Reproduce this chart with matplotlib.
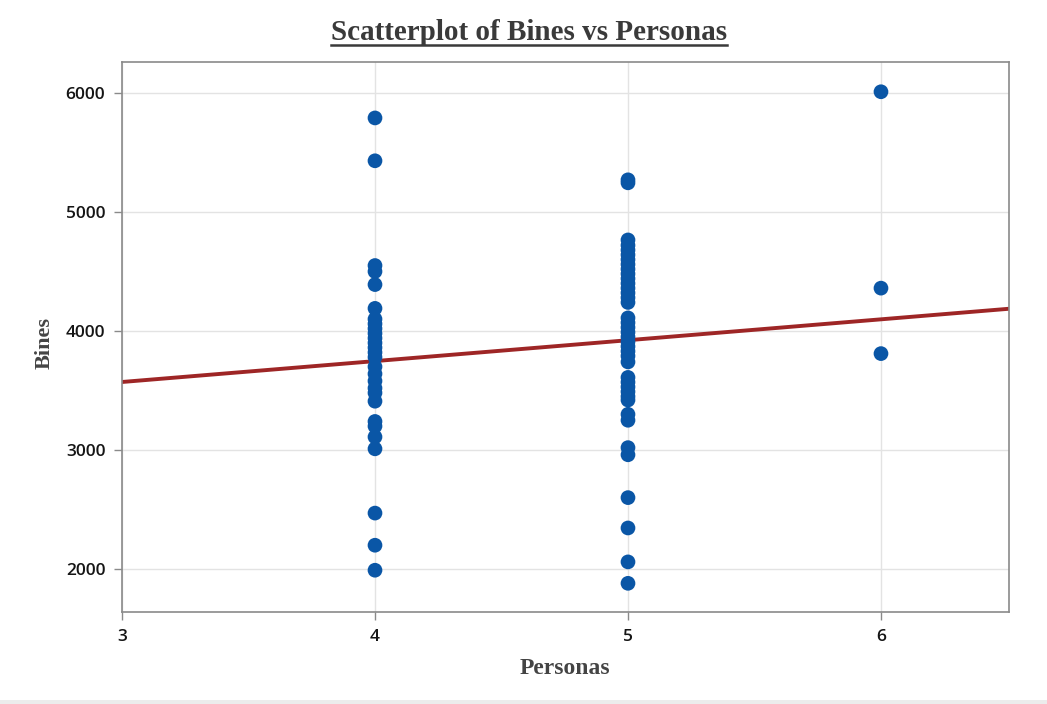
import matplotlib
matplotlib.use("Agg")
import matplotlib.pyplot as plt
from matplotlib.lines import Line2D
from matplotlib.patches import Rectangle

# ---- data ----
personas_4 = [5790, 5430, 4550, 4500, 4390, 4190, 4100, 4060, 4020, 3980, 3940,
              3900, 3860, 3820, 3780, 3700, 3640, 3580, 3520, 3480, 3410, 3240,
              3200, 3110, 3010, 2470, 2200, 1990]
personas_5 = [5270, 5245, 4765, 4720, 4680, 4640, 4600, 4560, 4520, 4480, 4440,
              4400, 4360, 4320, 4280, 4240, 4110, 4070, 4030, 3990, 3950, 3910,
              3870, 3830, 3790, 3740, 3610, 3570, 3530, 3490, 3450, 3420, 3300,
              3250, 3020, 2960, 2600, 2345, 2060, 1880]
personas_6 = [6010, 4360, 3810]

x_vals = [4] * len(personas_4) + [5] * len(personas_5) + [6] * len(personas_6)
y_vals = personas_4 + personas_5 + personas_6

fit_intercept = 3045.0
fit_slope = 175.5

x_ticks = [3, 4, 5, 6]
y_ticks = [2000, 3000, 4000, 5000, 6000]
title = "Scatterplot of Bines vs Personas"
xlabel = "Personas"
ylabel = "Bines"

# ---- figure ----
W, H = 1047, 704
fig = plt.figure(figsize=(W / 100, H / 100), dpi=100)
ax = fig.add_axes([122 / W, 1 - 612 / H, (1009 - 122) / W, (612 - 62) / H])

ax.set_xlim(3, 6.506)
ax.set_ylim(1639, 6260)

ax.set_xticks(x_ticks)
ax.set_yticks(y_ticks)
ax.grid(True, color="#e3e3e3", linewidth=1.0, zorder=0)
ax.set_axisbelow(True)

for s in ax.spines.values():
    s.set_color("#8a8a8a")
    s.set_linewidth(1.2)

ax.tick_params(axis="both", direction="out", length=6, width=1.0, color="#8a8a8a",
               labelsize=12.5, labelcolor="#151515", pad=6)
for lbl in ax.get_xticklabels() + ax.get_yticklabels():
    lbl.set_fontfamily("Open Sans")
    lbl.set_fontweight("semibold")

ax.axline((0, fit_intercept), slope=fit_slope, color="#9e2626", linewidth=2.8, zorder=2)
ax.scatter(x_vals, y_vals, s=112, color="#0a56a6", edgecolors="none", zorder=3)

serif = ["Liberation Serif", "DejaVu Serif"]
fig.text(565 / W, 1 - 669 / H, xlabel, ha="center", va="center", fontsize=17,
         fontweight="bold", family=serif, color="#444444")
fig.text(45 / W, 1 - 343 / H, ylabel, ha="center", va="center", rotation=90,
         fontsize=16, fontweight="bold", family=serif, color="#444444")

t = fig.text(529 / W, 1 - 40 / H, title, ha="center", va="baseline", fontsize=21,
             fontweight="bold", family=serif, color="#3a3a3a")

fig.canvas.draw()
bb = t.get_window_extent(renderer=fig.canvas.get_renderer())
uy = 1 - 45 / H
fig.add_artist(Line2D([bb.x0 / W, bb.x1 / W], [uy, uy], transform=fig.transFigure,
                      color="#3a3a3a", linewidth=1.8))

fig.add_artist(Rectangle((0, 0), 1, 4 / H, transform=fig.transFigure,
                         facecolor="#ececec", edgecolor="none"))

fig.savefig("out.png", dpi=100)
